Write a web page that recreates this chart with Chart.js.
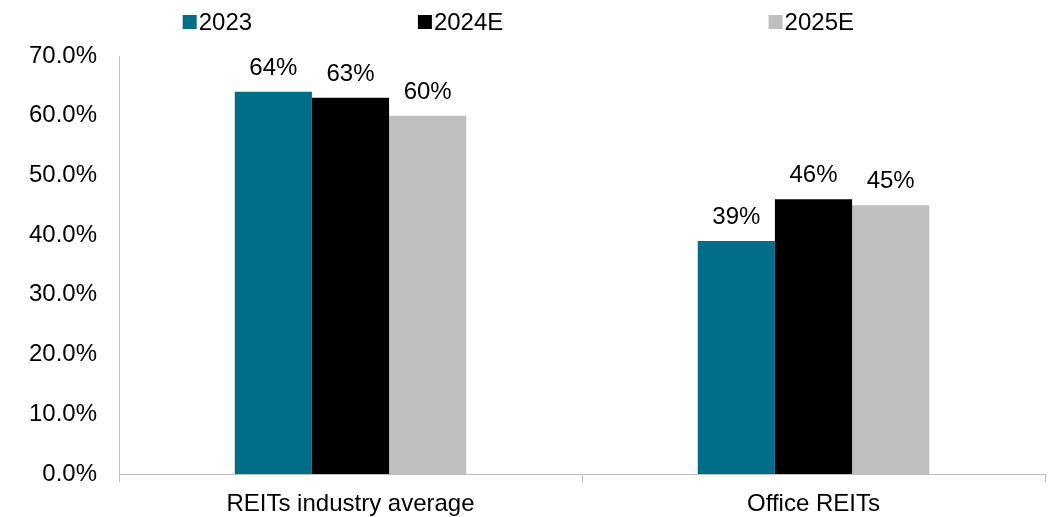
<!DOCTYPE html>
<html>
<head>
<meta charset="utf-8">
<script src="https://cdn.jsdelivr.net/npm/chart.js@4.4.1/dist/chart.umd.min.js"></script>
<style>
  html, body { margin: 0; padding: 0; background: #fff; }
  #wrap { width: 1050px; height: 517px; }
</style>
</head>
<body>
<div id="wrap"><canvas id="chart"></canvas></div>
<script>
const categories = ["REITs industry average", "Office REITs"];
const seriesNames = ["2023", "2024E", "2025E"];
const values2023 = [64, 39];
const values2024E = [63, 46];
const values2025E = [60, 45];
const seriesColors = ["#006E89", "#000000", "#BFBFBF"];

const fontFamily = "'Liberation Sans', Arial, sans-serif";
const fontSize = 24;

// legend entries sit at fixed fractions of the canvas width
const legendSlots = [0.174, 0.398, 0.732];

const legendPlugin = {
  id: "topLegend",
  afterDraw(chart) {
    const ctx = chart.ctx;
    ctx.save();
    ctx.font = fontSize + "px " + fontFamily;
    ctx.textBaseline = "middle";
    ctx.textAlign = "left";
    chart.data.datasets.forEach((ds, i) => {
      const x = chart.width * legendSlots[i];
      const y = 22;
      ctx.fillStyle = ds.backgroundColor;
      ctx.fillRect(x, y - 7, 14, 14);
      ctx.fillStyle = "#000";
      ctx.fillText(ds.label, x + 16, y + 1);
    });
    ctx.restore();
  },
};

const valueLabels = {
  id: "valueLabels",
  afterDatasetsDraw(chart) {
    const ctx = chart.ctx;
    ctx.save();
    ctx.font = fontSize + "px " + fontFamily;
    ctx.fillStyle = "#000";
    ctx.textAlign = "center";
    ctx.textBaseline = "alphabetic";
    chart.data.datasets.forEach((ds, i) => {
      chart.getDatasetMeta(i).data.forEach((bar, j) => {
        ctx.fillText(ds.data[j] + "%", bar.x, bar.y - 17);
      });
    });
    ctx.restore();
  },
};

function getDataset(label, data, color) {
  return {
    label: label,
    data: data,
    backgroundColor: color,
    borderWidth: 0,
    categoryPercentage: 0.5,
    barPercentage: 1.0,
  };
}

new Chart(document.getElementById("chart"), {
  type: "bar",
  data: {
    labels: categories,
    datasets: [
      getDataset(seriesNames[0], values2023, seriesColors[0]),
      getDataset(seriesNames[1], values2024E, seriesColors[1]),
      getDataset(seriesNames[2], values2025E, seriesColors[2]),
    ],
  },
  options: {
    responsive: true,
    maintainAspectRatio: false,
    animation: false,
    layout: { padding: { top: 56, right: 5, bottom: 0, left: 0 } },
    plugins: {
      legend: { display: false },
      tooltip: { enabled: false },
    },
    scales: {
      x: {
        grid: {
          offset: true,
          drawOnChartArea: false,
          drawTicks: true,
          tickLength: 8,
          color: "#BFBFBF",
        },
        border: { color: "#BFBFBF" },
        ticks: {
          color: "#000",
          font: { family: fontFamily, size: fontSize },
          padding: 8,
          maxRotation: 0,
        },
        afterFit(scale) {
          scale.height = 43;
        },
      },
      y: {
        min: 0,
        max: 70,
        grid: { display: false, drawTicks: false },
        border: { color: "#BFBFBF" },
        ticks: {
          stepSize: 10,
          color: "#000",
          padding: 22,
          font: { family: fontFamily, size: fontSize },
          callback: (v) => v.toFixed(1) + "%",
        },
        afterFit(scale) {
          scale.width = 119;
        },
      },
    },
  },
  plugins: [legendPlugin, valueLabels],
});
</script>
</body>
</html>
